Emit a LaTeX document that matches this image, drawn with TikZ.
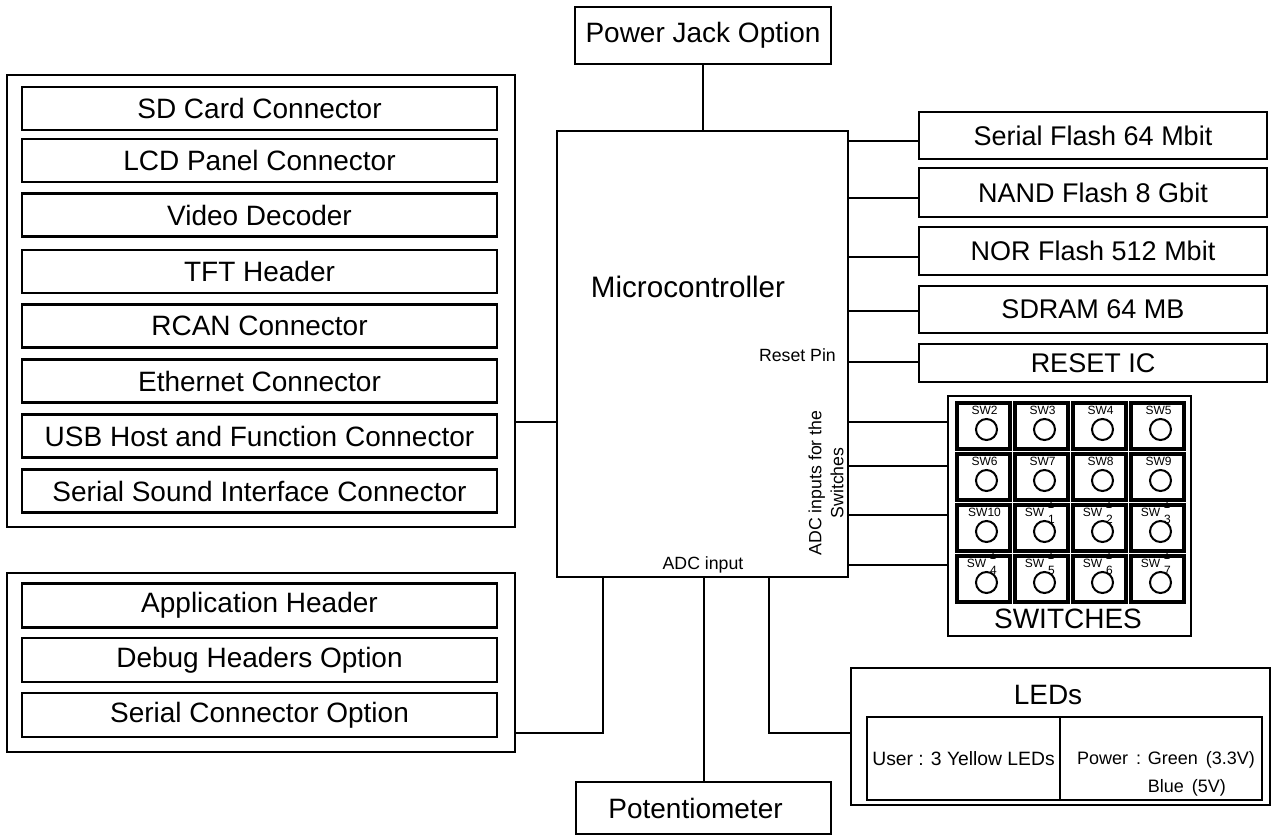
\documentclass[tikz,border=0pt]{standalone}
\usepackage{fontspec}
\setmainfont{Liberation Sans}
\newcommand{\fsz}[1]{\fontsize{#1}{#1}\selectfont}
\begin{document}
\begin{tikzpicture}[x=1pt,y=-1pt,
  box/.style={draw, line width=2.8pt, rectangle, inner sep=0pt, font=\fsz{28}},
  wire/.style={line width=2.8pt},
  cell/.style={draw, line width=4pt, minimum width=53pt, minimum height=46pt, inner sep=0pt},
  swl/.style={font=\fsz{12}, inner sep=0pt},
  lbl/.style={inner sep=0pt, font=\fsz{17.7}}]
\useasboundingbox (0,0) rectangle (1271,840);

% Microcontroller
\node[box, minimum width=291pt, minimum height=446pt] (mcu) at (702.5,354) {};
\node[inner sep=0pt, font=\fsz{29.6}] (mcut) at (688,287) {Microcontroller};
\node[lbl, anchor=east] (rpin) at (836,355) {Reset Pin};
\node[lbl] (adcin) at (703,565) {ADC input};
\node[lbl, rotate=90, align=center, font=\fontsize{17.7}{22}\selectfont] (adcsw) at (826,483) {ADC inputs for the\\Switches};

% Power jack
\node[box, minimum width=256pt, minimum height=57pt, font=\fsz{28}] (pj) at (703,35.5) {Power Jack Option};
\draw[wire] (pj.south |- 0,64) -- (pj.south |- mcu.north);

% Left group
\node[box, minimum width=508pt, minimum height=452pt] (lg) at (261,301) {};
\foreach \t/\y [count=\i] in {SD Card Connector/108.5, LCD Panel Connector/160.5, Video Decoder/215, TFT Header/271.5, RCAN Connector/326, Ethernet Connector/381, USB Host and Function Connector/436, Serial Sound Interface Connector/491}
  \node[box, minimum width=475pt, minimum height=43pt] (l\i) at (259.5,\y) {\t};
\draw[wire] (lg.east |- 0,422) -- (mcu.west |- 0,422);

% Bottom-left group
\node[box, minimum width=508pt, minimum height=179pt] (bg) at (261,662.5) {};
\foreach \t/\y [count=\i] in {Application Header/605.5, Debug Headers Option/660, Serial Connector Option/715}
  \node[box, minimum width=475pt, minimum height=44pt] (b\i) at (259.5,\y) {\t};
\draw[wire] (bg.east |- 0,733) -| (mcu.south -| 603,0);

% Potentiometer
\node[box, minimum width=255pt, minimum height=52pt, font=\fsz{28}] (pot) at (703.5,808) {Potentiometer\hspace*{16pt}};
\draw[wire] (mcu.south -| 704,0) -- (pot.north -| 704,0);

% Right memory boxes
\foreach \t/\y/\h/\ly [count=\i] in {Serial Flash 64 Mbit/135.5/47/141, NAND Flash 8 Gbit/192.5/49/198, NOR Flash 512 Mbit/251/48/257, SDRAM 64 MB/309.5/47/311, RESET IC/363/38/362}
{
  \node[box, minimum width=348pt, minimum height=\h pt, font=\fsz{27}] (r\i) at (1093,\y) {\t};
  \draw[wire] (mcu.east |- 0,\ly) -- (r\i.west |- 0,\ly);
}

% Switches
\node[draw, line width=2.8pt, minimum width=243pt, minimum height=240pt, inner sep=0pt] (swbox) at (1069.5,516) {};
\node[inner sep=0pt, font=\fsz{28}] (swt) at (1068,619) {SWITCHES};
\foreach \r in {0,...,3} \foreach \c in {0,...,3} {
  \pgfmathsetmacro\cx{983.5+58*\c}
  \pgfmathsetmacro\cy{426+51*\r}
  \node[cell] (sw\r\c) at (\cx,\cy) {};
  \draw[line width=2pt] (\cx+3,\cy+3.5) circle[radius=10.5pt];
}
\foreach \t/\r/\c in {SW2/0/0, SW3/0/1, SW4/0/2, SW5/0/3, SW6/1/0, SW7/1/1, SW8/1/2, SW9/1/3, SW10/2/0}
  \node[swl] at ([shift={(1,-15.5)}]sw\r\c.center) {\t};
\foreach \d/\r/\c in {1/2/1, 2/2/2, 3/2/3, 4/3/0, 5/3/1, 6/3/2, 7/3/3} {
  \node[swl] at ([shift={(-7,-15.5)}]sw\r\c.center) {SW};
  \node[swl] at ([shift={(9.5,-23.5)}]sw\r\c.center) {1};
  \node[swl] at ([shift={(10,-8.5)}]sw\r\c.center) {\d};
}
\foreach \y in {422,466,515,565}
  \draw[wire] (mcu.east |- 0,\y) -- (swbox.west |- 0,\y);

% LEDs
\node[box, minimum width=419pt, minimum height=137pt] (led) at (1060.5,736.5) {};
\node[inner sep=0pt, font=\fsz{28}] (ledt) at (1048,695) {LEDs};
\node[box, minimum width=193pt, minimum height=83pt, font=\fsz{19.3}] (ledu) at (963.5,758.5) {User : 3 Yellow LEDs};
\node[box, minimum width=202pt, minimum height=83pt] (ledp) at (1161,758.5) {};
\node[inner sep=0pt, anchor=west, align=left, font=\fontsize{18}{28}\selectfont] (ledpt) at (1077,774) {Power\ \,: Green\ \,(3.3V)\\\hphantom{Power\ \,: }Blue\ \,(5V)};
\draw[wire] (mcu.south -| 769,0) |- (led.west |- 0,733);

\end{tikzpicture}
\end{document}
